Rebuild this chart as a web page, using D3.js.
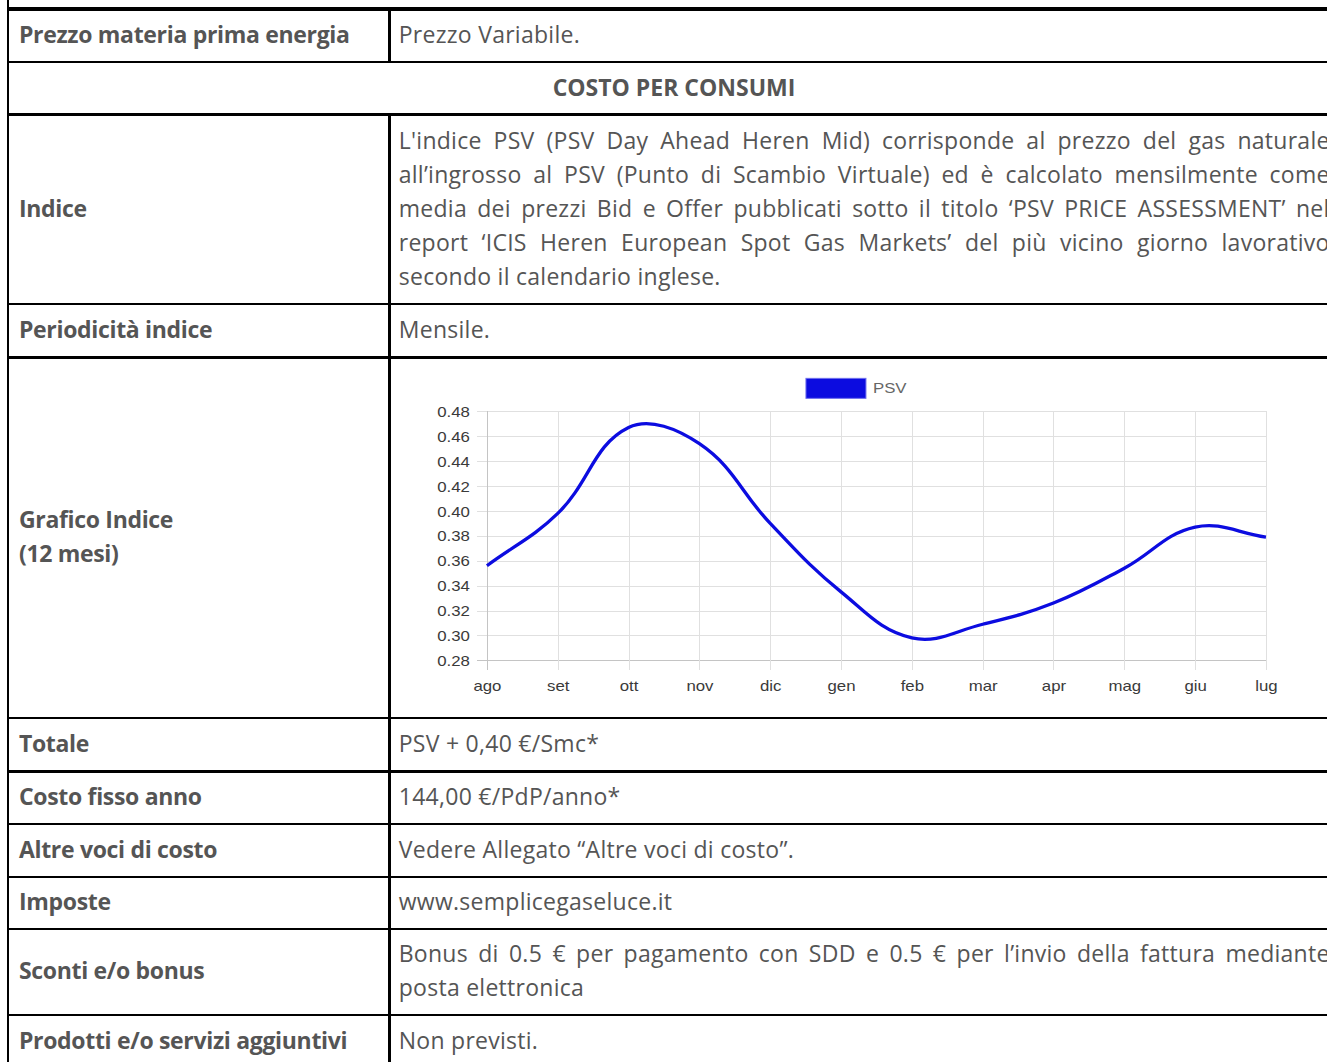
<!DOCTYPE html>
<html>
<head>
<meta charset="utf-8">
<script src="https://cdn.jsdelivr.net/npm/d3@7"></script>
<style>
  html, body { margin: 0; padding: 0; background: #fff; overflow: hidden; }
  body { width: 1327px; height: 1062px; position: relative; }
  #table { position: absolute; left: 0; top: 0; width: 1360px; height: 1080px; }
  .line { position: absolute; background: #000; }
  .cell { position: absolute; box-sizing: border-box; display: flex; align-items: center;
          font-family: "Open Sans", sans-serif; font-size: 23px; line-height: 34px; color: #555;
          padding-bottom: 3px; }
  .cell .txt { width: 100%; }
  .lbl { font-weight: 700; letter-spacing: -0.32px; }
  .val { text-align: justify; letter-spacing: 0.27px; }
  .hdr { font-weight: 700; justify-content: center; text-align: center; }
  svg text { font-family: "Liberation Sans", Arial, sans-serif; }
</style>
</head>
<body>
<div id="table"></div>
<script>
// ---------- data ----------
const months = ["ago", "set", "ott", "nov", "dic", "gen", "feb", "mar", "apr", "mag", "giu", "lug"];
const psv = [0.356, 0.398, 0.467, 0.454, 0.390, 0.335, 0.298, 0.309, 0.326, 0.354, 0.387, 0.379];
const yTicks = [0.28, 0.30, 0.32, 0.34, 0.36, 0.38, 0.40, 0.42, 0.44, 0.46, 0.48];
const seriesName = "PSV";

const rowLabels = ["Prezzo materia prima energia", null, "Indice", "Periodicità indice", "Grafico Indice<br>(12 mesi)",
  "Totale", "Costo fisso anno", "Altre voci di costo", "Imposte", "Sconti e/o bonus", "Prodotti e/o servizi aggiuntivi"];
const rowValues = ["Prezzo Variabile.", "COSTO PER CONSUMI",
  "L'indice PSV (PSV Day Ahead Heren Mid) corrisponde al prezzo del gas naturale all’ingrosso al PSV (Punto di Scambio Virtuale) ed è calcolato mensilmente come media dei prezzi Bid e Offer pubblicati sotto il titolo ‘PSV PRICE ASSESSMENT’ nel report ‘ICIS Heren European Spot Gas Markets’ del più vicino giorno lavorativo secondo il calendario inglese.",
  "Mensile.", "__chart__", "PSV + 0,40 €/Smc*", "144,00 €/PdP/anno*", "Vedere Allegato “Altre voci di costo”.",
  "www.semplicegaseluce.it",
  "Bonus di 0.5 € per pagamento con SDD e 0.5 € per l’invio della fattura mediante posta elettronica",
  "Non previsti."];

// ---------- layout ----------
const hLines = [9, 62, 114.5, 304, 357.3, 718, 771.5, 824, 877, 929, 1015, 1068];
const lineW = 2.7, topW = 4;
const xLeft = 8, xDiv = 389.7, xRight = 1340;

const table = d3.select("#table");
table.append("div").attr("class", "line")
  .style("left", (xLeft - lineW / 2) + "px").style("top", "0px")
  .style("width", lineW + "px").style("height", "1080px");
hLines.forEach((y, i) => {
  const w = i === 0 ? topW : lineW;
  table.append("div").attr("class", "line")
    .style("left", (xLeft - lineW / 2) + "px").style("top", (y - w / 2) + "px")
    .style("width", (xRight - xLeft) + "px").style("height", w + "px");
});

rowLabels.forEach((lab, i) => {
  const top = hLines[i] + (i === 0 ? topW : lineW) / 2;
  const bot = hLines[i + 1] - lineW / 2;
  if (lab === null) {
    table.append("div").attr("class", "cell hdr")
      .style("left", (xLeft + lineW / 2) + "px").style("top", top + "px")
      .style("width", (xRight - xLeft - lineW) + "px").style("height", (bot - top) + "px")
      .html(rowValues[i]);
    return;
  }
  table.append("div").attr("class", "line")
    .style("left", (xDiv - lineW / 2) + "px").style("top", (top - 0.5) + "px")
    .style("width", lineW + "px").style("height", (bot - top + 1) + "px");
  table.append("div").attr("class", "cell lbl")
    .style("left", (xLeft + lineW / 2) + "px").style("top", top + "px")
    .style("width", (xDiv - xLeft - lineW) + "px").style("height", (bot - top) + "px")
    .style("padding-left", "9.6px")
    .append("div").attr("class", "txt").html(lab);
  if (rowValues[i] === "__chart__") {
    drawChart(xDiv + lineW / 2, top, xRight - xDiv - lineW, bot - top);
  } else {
    table.append("div").attr("class", "cell val")
      .style("left", (xDiv + lineW / 2) + "px").style("top", top + "px")
      .style("width", (xRight - xDiv - lineW) + "px").style("height", (bot - top) + "px")
      .style("padding-left", "7.7px").style("padding-right", "9px")
      .append("div").attr("class", "txt").html(rowValues[i]);
  }
});

// Chart.js-like spline curve
function chartjsCurve(tension, sx) {
  return function (context) {
    let pts = [];
    return {
      areaStart() {}, areaEnd() {},
      lineStart() { pts = []; },
      point(x, y) { pts.push([+x, +y]); },
      lineEnd() {
        const n = pts.length; if (!n) return;
        const cps = pts.map((p, i) => {
          const p0 = pts[i - 1] || p, p2 = pts[i + 1] || p;
          const d01 = Math.hypot((p[0] - p0[0]) / sx, p[1] - p0[1]);
          const d12 = Math.hypot((p2[0] - p[0]) / sx, p2[1] - p[1]);
          let s01 = d01 / (d01 + d12), s12 = d12 / (d01 + d12);
          if (isNaN(s01)) s01 = 0; if (isNaN(s12)) s12 = 0;
          const fa = tension * s01, fb = tension * s12;
          return {
            prev: [p[0] - fa * (p2[0] - p0[0]), p[1] - fa * (p2[1] - p0[1])],
            next: [p[0] + fb * (p2[0] - p0[0]), p[1] + fb * (p2[1] - p0[1])]
          };
        });
        context.moveTo(pts[0][0], pts[0][1]);
        for (let i = 1; i < n; i++) {
          context.bezierCurveTo(cps[i - 1].next[0], cps[i - 1].next[1], cps[i].prev[0], cps[i].prev[1], pts[i][0], pts[i][1]);
        }
      }
    };
  };
}

function drawChart(left, top, width, height) {
  const sx = 1.2;
  const svg = table.append("svg")
    .style("position", "absolute").style("left", left + "px").style("top", top + "px")
    .attr("width", width).attr("height", height);

  const m = { left: 487 - left, right: 1266 - left, top: 411 - top, bottom: 660 - top };
  const x = d3.scalePoint().domain(months).range([m.left, m.right]);
  const y = d3.scaleLinear().domain([yTicks[0], yTicks[yTicks.length - 1]]).range([m.bottom, m.top]);

  const grid = "#e0e0e0", zero = "#c4c4c4";
  const yAxis = d3.axisLeft(y).tickValues(yTicks).tickFormat(d3.format(".2f"))
    .tickSize(-(m.right - m.left)).tickPadding(0);
  const gy = svg.append("g").attr("transform", `translate(${m.left},0)`).call(yAxis);
  gy.select(".domain").remove();
  gy.selectAll(".tick line").attr("stroke", (d, i) => i === 0 ? zero : grid).attr("x1", -10).attr("shape-rendering", "crispEdges");
  gy.selectAll(".tick text").remove();
  gy.selectAll(".tick").append("text")
    .attr("transform", `translate(-17,0) scale(${sx},1)`)
    .attr("text-anchor", "end").attr("dy", "0.36em")
    .attr("font-size", 14).attr("fill", "#3a3a3a")
    .text(d => d3.format(".2f")(d));

  const xAxis = d3.axisBottom(x).tickSize(-(m.bottom - m.top)).tickPadding(0);
  const gx = svg.append("g").attr("transform", `translate(0,${m.bottom})`).call(xAxis);
  gx.select(".domain").remove();
  gx.selectAll(".tick line").attr("stroke", (d, i) => i === 0 ? zero : grid).attr("y1", 10).attr("shape-rendering", "crispEdges");
  gx.selectAll(".tick text").remove();
  gx.selectAll(".tick").append("text")
    .attr("transform", `translate(0,31) scale(${sx},1)`)
    .attr("text-anchor", "middle")
    .attr("font-size", 14).attr("fill", "#3a3a3a")
    .text(d => d);

  const line = d3.line()
    .x((d, i) => x(months[i]))
    .y(d => y(d))
    .curve(chartjsCurve(0.4, sx));
  svg.append("path").datum(psv)
    .attr("d", line)
    .attr("fill", "none").attr("stroke", "#0c0ce0").attr("stroke-width", 3.3)
    .attr("stroke-linejoin", "round");

  const lg = svg.append("g");
  lg.append("rect").attr("x", 806 - left).attr("y", 378 - top).attr("width", 60).attr("height", 20)
    .attr("fill", "#0c0ce0").attr("stroke", "#6f6fee").attr("stroke-width", 1);
  lg.append("text").attr("transform", `translate(${873 - left},${388 - top}) scale(${sx},1)`)
    .attr("dy", "0.36em").attr("font-size", 14).attr("fill", "#666").text(seriesName);
}
</script>
</body>
</html>
